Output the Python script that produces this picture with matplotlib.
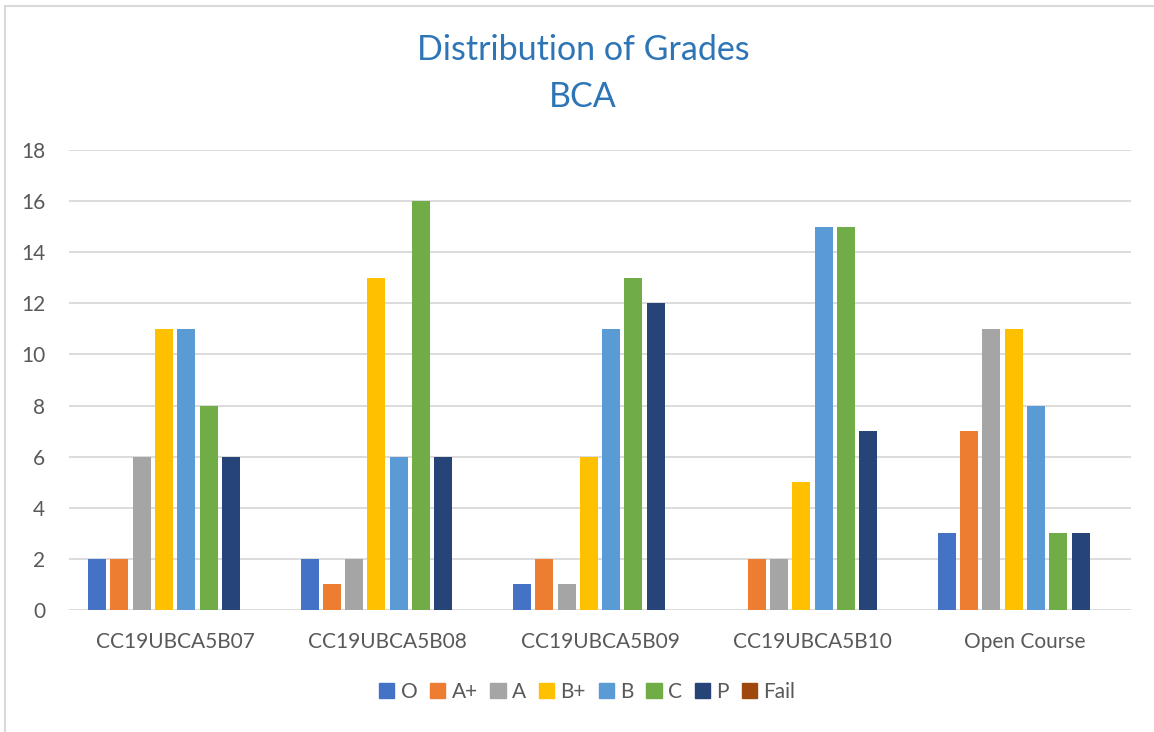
import matplotlib.pyplot as plt
import matplotlib.patches as mpatches
import numpy as np

plt.rcParams['font.family'] = ['Lato', 'DejaVu Sans']

courses = ["CC19UBCA5B07", "CC19UBCA5B08", "CC19UBCA5B09", "CC19UBCA5B10", "Open Course"]
grades = ["O", "A+", "A", "B+", "B", "C", "P", "Fail"]

grade_O = [2, 2, 1, 0, 3]
grade_Aplus = [2, 1, 2, 2, 7]
grade_A = [6, 2, 1, 2, 11]
grade_Bplus = [11, 13, 6, 5, 11]
grade_B = [11, 6, 11, 15, 8]
grade_C = [8, 16, 13, 15, 3]
grade_P = [6, 6, 12, 7, 3]
grade_Fail = [0, 0, 0, 0, 0]

series = [grade_O, grade_Aplus, grade_A, grade_Bplus, grade_B, grade_C, grade_P, grade_Fail]
colors = ["#4472C4", "#ED7D31", "#A5A5A5", "#FFC000", "#5B9BD5", "#70AD47", "#264478", "#9E480E"]

W, H = 1154, 732
fig = plt.figure(figsize=(W / 100, H / 100), dpi=100)
ax = fig.add_axes([69 / W, (H - 610) / H, (1131 - 69) / W, (610 - 150) / H])

# chart border (Excel chart frame, cut at right/bottom)
fig.patches.append(mpatches.Rectangle((5 / W, -0.1), 1.2, (H - 6) / H + 0.1,
                                      transform=fig.transFigure, fill=False,
                                      edgecolor="#D9D9D9", lw=1.5, zorder=0))

x = np.arange(len(courses))
pitch = 0.105
width = 0.085
n = len(series)
for i, (vals, c, g) in enumerate(zip(series, colors, grades)):
    off = (i - (n - 1) / 2) * pitch
    ax.bar(x + off, vals, width, color=c, label=g, zorder=3)

ax.set_xlim(-0.5, len(courses) - 0.5)
ax.set_ylim(0, 18)
ax.set_yticks(range(0, 19, 2))
ax.set_xticks(x)
ax.set_xticklabels(courses)
ax.grid(axis="y", color="#D9D9D9", lw=1.3, zorder=0)
for s in ax.spines.values():
    s.set_visible(False)
ax.tick_params(axis="both", length=0, labelsize=15, colors="#595959")
ax.tick_params(axis="x", pad=16)
ax.tick_params(axis="y", pad=17)

fig.text(583 / W, 1 - 50 / H, "Distribution of Grades", ha="center", va="center",
         fontsize=24.5, color="#2E75B6")
fig.text(583 / W, 1 - 97 / H, "BCA", ha="center", va="center",
         fontsize=24.5, color="#2E75B6")

handles = [mpatches.Patch(color=c, label=g) for c, g in zip(colors, grades)]
fig.legend(handles=handles, loc="center", bbox_to_anchor=(587 / W, 1 - 692 / H),
           ncol=8, frameon=False, fontsize=15, handlelength=0.75, handleheight=0.75,
           handletextpad=0.3, columnspacing=0.6, labelcolor="#595959")

fig.savefig("out.png", dpi=100)
